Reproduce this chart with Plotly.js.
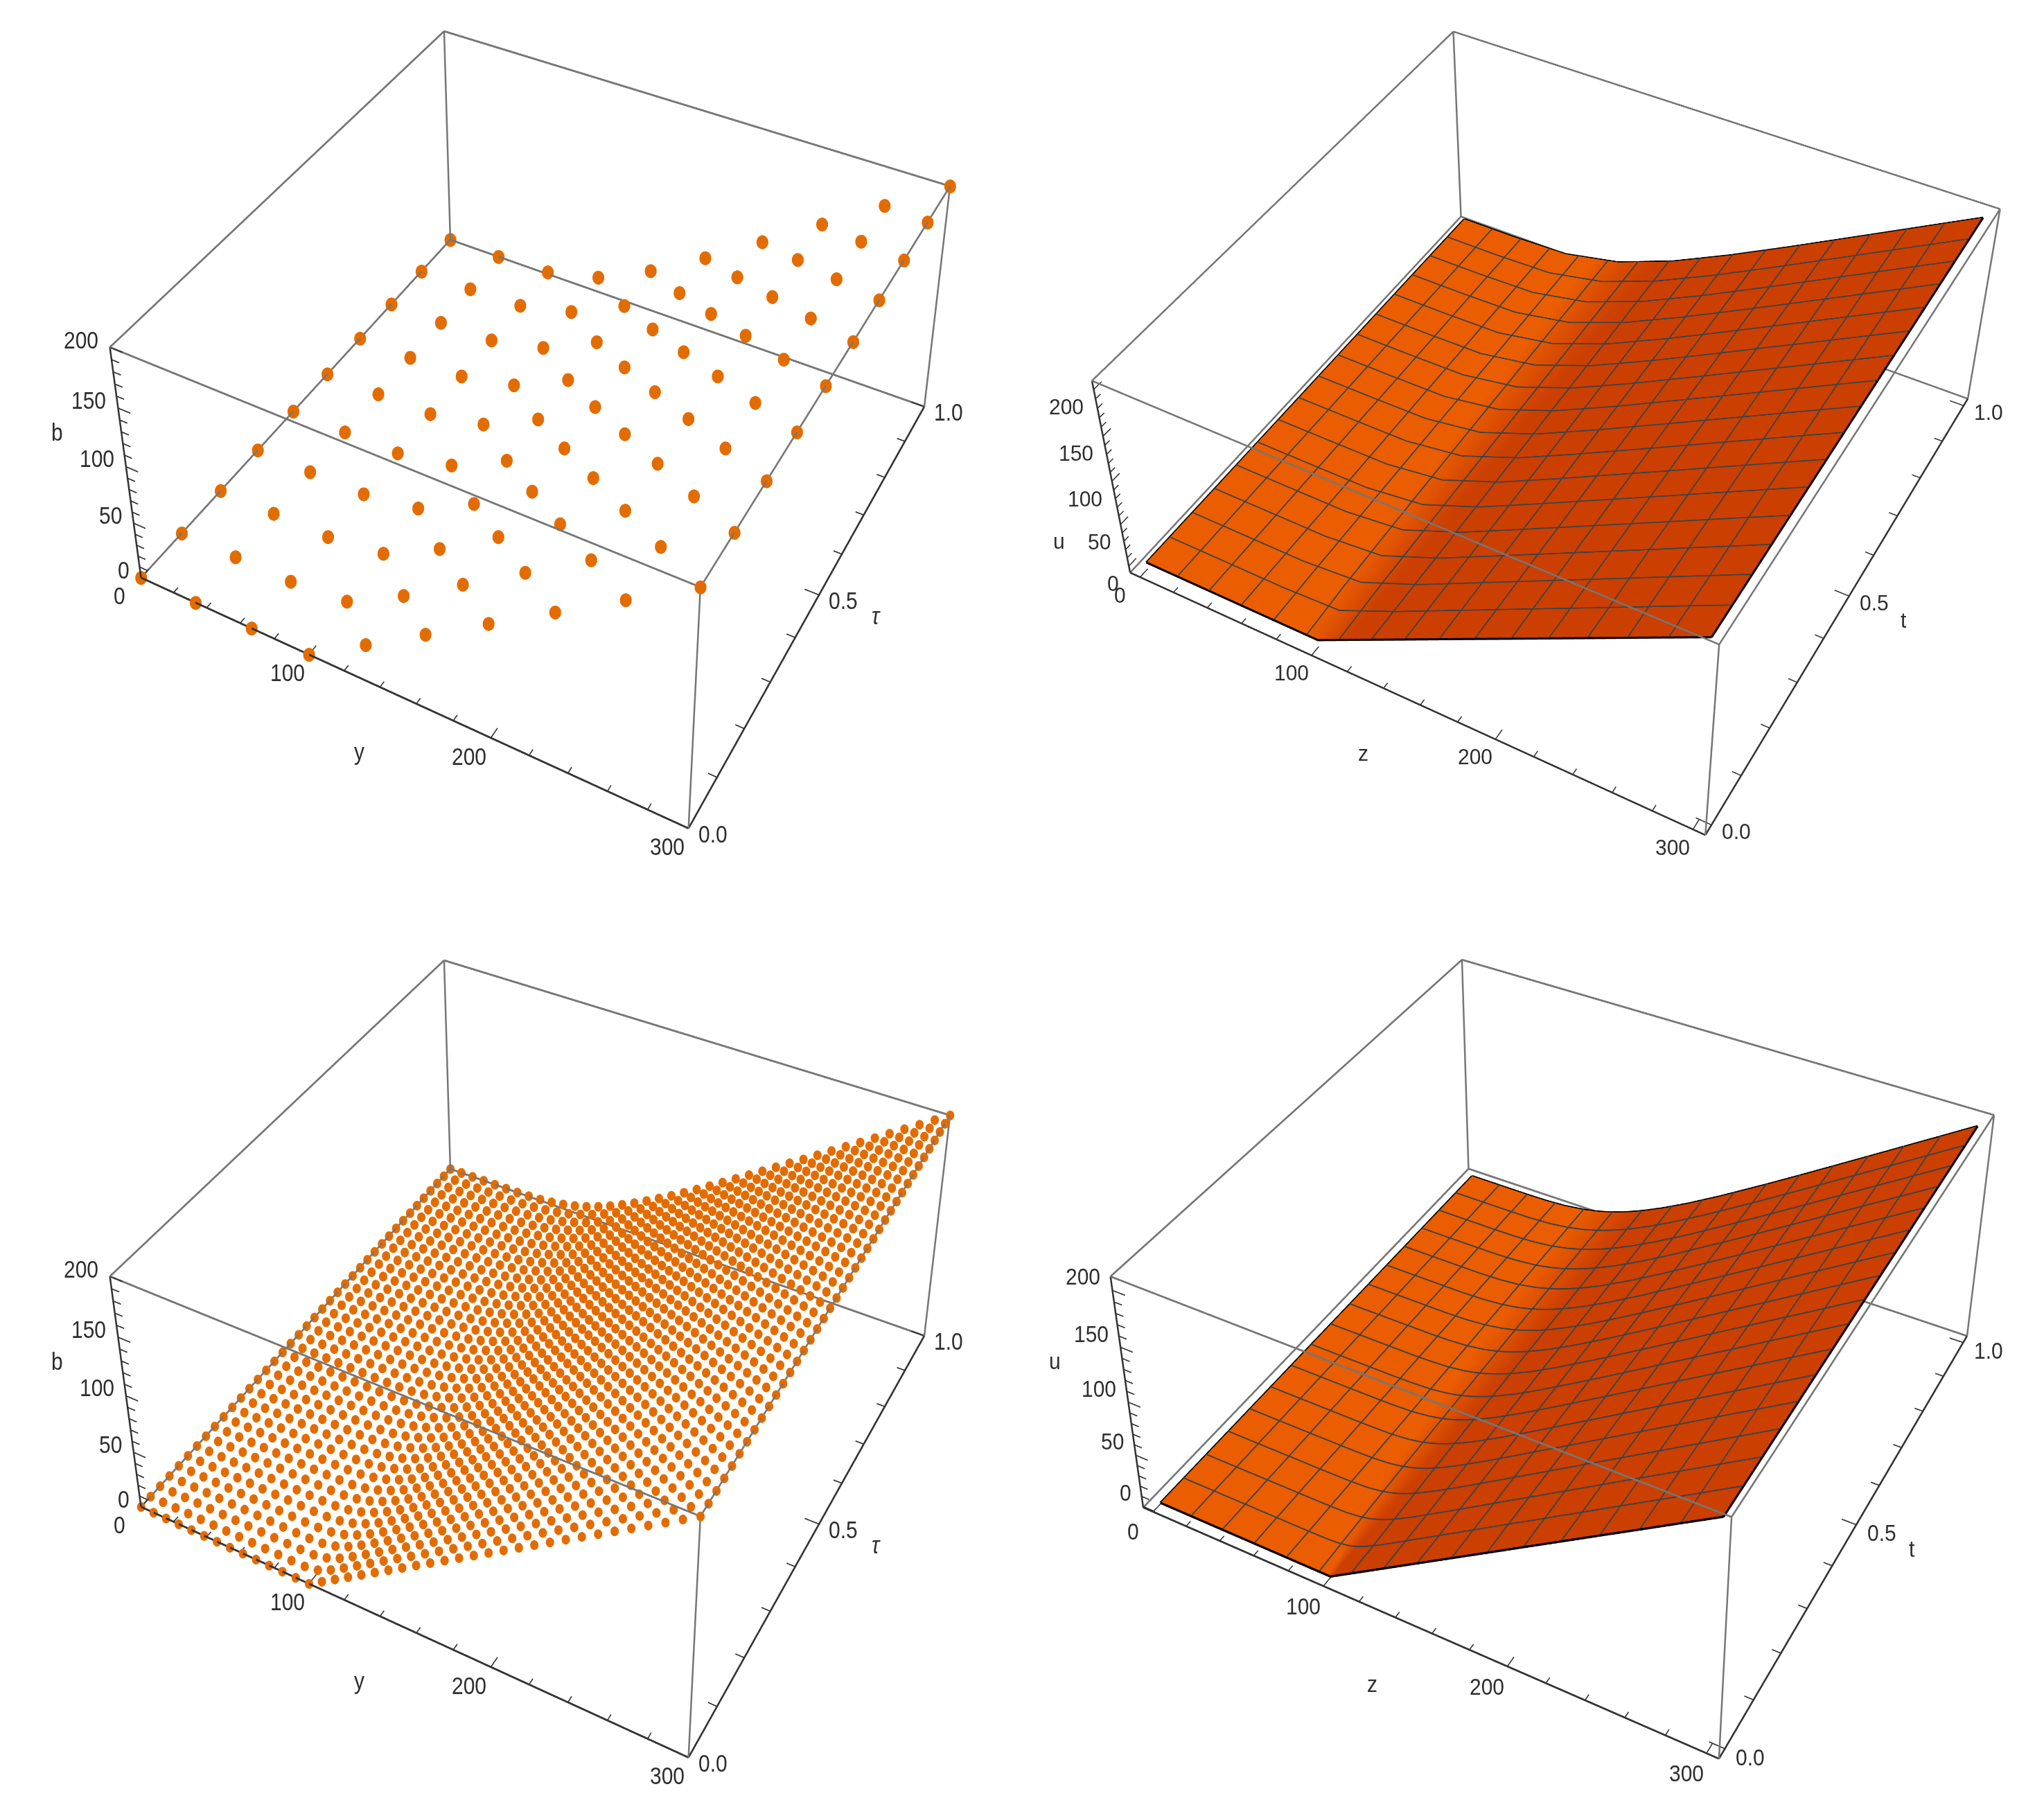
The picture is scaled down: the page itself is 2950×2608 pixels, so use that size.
<!DOCTYPE html>
<html><head><meta charset="utf-8">
<script src="https://cdn.plot.ly/plotly-3.0.1.min.js"></script>
<style>html,body{margin:0;padding:0;background:#fff;width:2950px;height:2608px;overflow:hidden}
.p{position:absolute;transform-origin:0 0}</style></head>
<body><div id="p1" class="p"></div><div id="p2" class="p"></div><div id="p3" class="p"></div><div id="p4" class="p"></div>
<script>
//top row grid: 10 x 10
const y_coarse=[0,33.33,66.67,100,133.33,166.67,200,233.33,266.67,300];
const tau_coarse=[0,0.1111,0.2222,0.3333,0.4444,0.5556,0.6667,0.7778,0.8889,1];
const b_coarse=[
[0,0,0,0,33.3,66.7,100,133.3,166.7,200],
[0,0,0,4.8,33.4,66.7,100,133.3,166.7,200],
[0,0,0,6.8,33.7,66.7,100,133.3,166.7,200],
[0,0,0.2,8.3,34.2,66.8,100,133.3,166.7,200],
[0,0,0.4,9.6,34.9,66.9,100,133.3,166.7,200],
[0,0,0.6,10.7,35.6,67,100.1,133.3,166.7,200],
[0,0,0.9,11.7,36.2,67.3,100.1,133.4,166.7,200],
[0,0,1.2,12.6,36.9,67.6,100.2,133.4,166.7,200],
[0,0,1.5,13.5,37.6,67.9,100.3,133.5,166.8,200],
[0,0,1.9,14.3,38.3,68.3,100.5,133.6,166.8,200]];
const u_coarse=[
[0,0,0,0,33.3,66.7,100,133.3,166.7,200],
[0,0,0,4.9,33.5,66.9,100.2,133.5,167,200.3],
[0,0,0,6.9,33.9,67,100.4,133.8,167.3,200.7],
[0,0,0.2,8.5,34.5,67.3,100.6,134,167.6,201],
[0,0,0.4,9.9,35.3,67.5,100.8,134.3,167.9,201.3],
[0,0,0.6,11,36.2,67.8,101.1,134.5,168.1,201.7],
[0,0,0.9,12.1,36.9,68.2,101.3,134.9,168.4,202],
[0,0,1.2,13.1,37.7,68.7,101.6,135.1,168.7,202.3],
[0,0,1.5,14,38.5,69.1,101.9,135.4,169.1,202.7],
[0,0,1.9,14.9,39.3,69.7,102.3,135.8,169.4,203]];

//bottom left grid: 40 x 40, value = floor row + bump read near the crease (columns 5 to 28)
const y_fine=[0,7.69,15.38,23.08,30.77,38.46,46.15,53.85,61.54,69.23,76.92,84.62,92.31,100,107.69,115.38,123.08,130.77,138.46,146.15,153.85,161.54,169.23,176.92,184.62,192.31,200,207.69,215.38,223.08,230.77,238.46,246.15,253.85,261.54,269.23,276.92,284.62,292.31,300];
const tau_fine=[0,0.0256,0.0513,0.0769,0.1026,0.1282,0.1538,0.1795,0.2051,0.2308,0.2564,0.2821,0.3077,0.3333,0.359,0.3846,0.4103,0.4359,0.4615,0.4872,0.5128,0.5385,0.5641,0.5897,0.6154,0.641,0.6667,0.6923,0.7179,0.7436,0.7692,0.7949,0.8205,0.8462,0.8718,0.8974,0.9231,0.9487,0.9744,1];
const b_floor=[0,0,0,0,0,0,0,0,0,0,0,0,0,0,7.7,15.4,23.1,30.8,38.5,46.2,53.8,61.5,69.2,76.9,84.6,92.3,100,107.7,115.4,123.1,130.8,138.5,146.2,153.8,161.5,169.2,176.9,184.6,192.3,200];
const b_bump=[
[],
[0,0,0,0,0,0,0,0.2,2.3,0.3],
[0,0,0,0,0,0,0.1,0.7,3.3,0.8,0.1],
[0,0,0,0,0,0,0.2,1.1,4,1.4,0.4,0.1],
[0,0,0,0,0,0,0.3,1.6,4.6,1.9,0.6,0.2],
[0,0,0,0,0,0.1,0.5,2,5.1,2.3,0.9,0.3,0.1],
[0,0,0,0,0,0.2,0.8,2.4,5.6,2.8,1.2,0.5,0.2,0.1],
[0,0,0,0,0,0.2,1,2.8,6.1,3.2,1.5,0.7,0.3,0.1],
[0,0,0,0,0.1,0.3,1.2,3.1,6.5,3.6,1.8,0.9,0.4,0.2,0.1],
[0,0,0,0,0.1,0.4,1.4,3.5,6.9,4,2.1,1.1,0.5,0.2,0.1],
[0,0,0,0,0.1,0.5,1.6,3.8,7.3,4.3,2.4,1.3,0.6,0.3,0.1,0.1],
[0,0,0,0,0.2,0.7,1.8,4.1,7.6,4.6,2.7,1.5,0.8,0.4,0.2,0.1],
[0,0,0,0,0.2,0.8,2.1,4.4,8,5,3,1.7,0.9,0.5,0.3,0.1,0.1],
[0,0,0,0.1,0.3,0.9,2.3,4.7,8.3,5.3,3.2,1.9,1.1,0.6,0.3,0.2,0.1],
[0,0,0,0.1,0.3,1,2.5,5,8.6,5.6,3.5,2.1,1.3,0.7,0.4,0.2,0.1,0.1],
[0,0,0,0.1,0.4,1.2,2.7,5.2,8.9,5.9,3.8,2.3,1.4,0.8,0.5,0.3,0.2,0.1],
[0,0,0,0.1,0.4,1.3,2.9,5.5,9.2,6.2,4,2.6,1.6,1,0.6,0.3,0.2,0.1,0.1],
[0,0,0,0.1,0.5,1.4,3.1,5.8,9.5,6.4,4.3,2.8,1.8,1.1,0.7,0.4,0.2,0.1,0.1,0.1],
[0,0,0,0.2,0.6,1.5,3.3,6,9.7,6.7,4.5,3,1.9,1.2,0.8,0.5,0.3,0.2,0.1,0.1],
[0,0,0,0.2,0.7,1.7,3.5,6.2,10,7,4.8,3.2,2.1,1.4,0.9,0.5,0.3,0.2,0.1,0.1,0.1],
[0,0,0.1,0.2,0.7,1.8,3.7,6.5,10.3,7.2,5,3.4,2.3,1.5,1,0.6,0.4,0.3,0.2,0.1,0.1],
[0,0,0.1,0.3,0.8,1.9,3.9,6.7,10.5,7.5,5.2,3.6,2.4,1.6,1.1,0.7,0.5,0.3,0.2,0.1,0.1,0.1],
[0,0,0.1,0.3,0.9,2.1,4.1,6.9,10.8,7.7,5.5,3.8,2.6,1.8,1.2,0.8,0.5,0.3,0.2,0.1,0.1,0.1],
[0,0,0.1,0.3,1,2.2,4.2,7.2,11,8,5.7,4,2.8,1.9,1.3,0.9,0.6,0.4,0.3,0.2,0.1,0.1,0.1],
[0,0,0.1,0.4,1.1,2.3,4.4,7.4,11.2,8.2,5.9,4.2,2.9,2,1.4,1,0.7,0.4,0.3,0.2,0.1,0.1,0.1],
[0,0,0.1,0.4,1.1,2.5,4.6,7.6,11.5,8.4,6.1,4.4,3.1,2.2,1.5,1.1,0.7,0.5,0.3,0.2,0.2,0.1,0.1,0.1],
[0,0,0.1,0.5,1.2,2.6,4.8,7.8,11.7,8.7,6.3,4.6,3.3,2.3,1.6,1.1,0.8,0.6,0.4,0.3,0.2,0.1,0.1,0.1],
[0,0,0.2,0.5,1.3,2.7,4.9,8,11.9,8.9,6.6,4.8,3.4,2.5,1.8,1.2,0.9,0.6,0.4,0.3,0.2,0.1,0.1,0.1],
[0,0,0.2,0.6,1.4,2.9,5.1,8.2,12.1,9.1,6.8,5,3.6,2.6,1.9,1.3,1,0.7,0.5,0.3,0.2,0.2,0.1,0.1],
[0,0,0.2,0.6,1.5,3,5.3,8.4,12.3,9.3,7,5.2,3.8,2.8,2,1.4,1,0.7,0.5,0.4,0.3,0.2,0.1,0.1],
[0,0,0.2,0.7,1.6,3.1,5.5,8.6,12.5,9.5,7.2,5.3,3.9,2.9,2.1,1.5,1.1,0.8,0.6,0.4,0.3,0.2,0.2,0.1],
[0,0.1,0.2,0.7,1.7,3.3,5.6,8.8,12.7,9.7,7.4,5.5,4.1,3,2.2,1.6,1.2,0.9,0.6,0.5,0.3,0.2,0.2,0.1],
[0,0.1,0.3,0.8,1.7,3.4,5.8,9,13,9.9,7.6,5.7,4.3,3.2,2.4,1.7,1.3,0.9,0.7,0.5,0.4,0.3,0.2,0.1],
[0,0.1,0.3,0.8,1.8,3.5,5.9,9.2,13.2,10.1,7.8,5.9,4.4,3.3,2.5,1.8,1.4,1,0.8,0.6,0.4,0.3,0.2,0.2],
[0,0.1,0.3,0.9,1.9,3.6,6.1,9.3,13.3,10.3,7.9,6.1,4.6,3.5,2.6,2,1.5,1.1,0.8,0.6,0.5,0.3,0.3,0.2],
[0,0.1,0.3,0.9,2,3.8,6.3,9.5,13.5,10.5,8.1,6.2,4.8,3.6,2.7,2.1,1.6,1.2,0.9,0.7,0.5,0.4,0.3,0.2],
[0,0.1,0.4,1,2.1,3.9,6.4,9.7,13.7,10.7,8.3,6.4,4.9,3.8,2.9,2.2,1.6,1.2,0.9,0.7,0.5,0.4,0.3,0.2],
[0,0.1,0.4,1,2.2,4,6.6,9.9,13.9,10.9,8.5,6.6,5.1,3.9,3,2.3,1.7,1.3,1,0.8,0.6,0.4,0.3,0.3],
[0,0.1,0.4,1.1,2.3,4.1,6.7,10.1,14.1,11.1,8.7,6.8,5.2,4,3.1,2.4,1.8,1.4,1.1,0.8,0.6,0.5,0.4,0.3],
[0,0.1,0.5,1.1,2.4,4.3,6.9,10.2,14.3,11.3,8.9,6.9,5.4,4.2,3.2,2.5,1.9,1.5,1.1,0.9,0.7,0.5,0.4,0.3]];
const b_fine=b_bump.map(row=>b_floor.map((v,i)=>v+(row[i-5]||0)));

//bottom right surface, grid is tighter around the crease
const z_smooth=[0,18.75,37.5,50,62.5,75,85,92,97,100,103,108,115,125,140,160,187.5,206.25,225,243.75,262.5,281.25,300];
const t_smooth=[0,0.0625,0.125,0.25,0.375,0.5,0.625,0.75,0.875,1];
const u_smooth=[
[0,0,0,0,0,0,0,0,0,0,3,8,15,25,40,60,87.5,106.3,125,143.8,162.5,181.3,200],
[0,0,0,0,0,0,0.2,0.9,2.3,3.6,5.4,9.1,15.3,25.1,40.1,60.1,87.7,106.4,125.2,144,162.7,181.5,200.3],
[0,0,0,0,0,0.1,0.6,2,3.7,5.2,6.9,10.3,16.1,25.4,40.2,60.2,87.8,106.6,125.4,144.2,163,181.8,200.6],
[0,0,0,0,0.1,0.5,1.8,3.8,5.9,7.4,9.1,12.4,17.7,26.4,40.7,60.5,88.1,107,125.8,144.6,163.5,182.3,201.1],
[0,0,0,0,0.2,1,3,5.3,7.5,9.1,10.8,14.1,19.2,27.5,41.3,60.9,88.4,107.3,126.2,145.1,163.9,182.8,201.7],
[0,0,0,0,0.4,1.6,4,6.6,9,10.6,12.3,15.5,20.6,28.6,42.1,61.4,88.8,107.7,126.6,145.5,164.4,183.3,202.3],
[0,0,0,0,0.6,2.3,5,7.8,10.2,11.9,13.6,16.8,21.8,29.8,43,62,89.2,108.1,127,145.9,164.9,183.9,202.8],
[0,0,0,0.1,0.9,2.9,5.9,8.9,11.4,13.1,14.8,18.1,23,30.8,43.8,62.6,89.7,108.5,127.4,146.4,165.4,184.4,203.4],
[0,0,0,0.2,1.2,3.5,6.8,9.9,12.5,14.2,16,19.2,24.1,31.9,44.7,63.3,90.2,109,127.9,146.9,165.9,184.9,203.9],
[0,0,0,0.3,1.5,4.2,7.6,10.8,13.5,15.2,17,20.2,25.2,32.9,45.6,64,90.8,109.5,128.4,147.4,166.4,185.4,204.5]];

//mesh lines on the surfaces: 15 in each direction
const mesh_z=[18.75,37.5,56.25,75,93.75,112.5,131.25,150,168.75,187.5,206.25,225,243.75,262.5,281.25];
const mesh_t=[0.0625,0.125,0.1875,0.25,0.3125,0.375,0.4375,0.5,0.5625,0.625,0.6875,0.75,0.8125,0.875,0.9375];

//tick positions shared by the four boxes
const y_ticks=[0,20,40,60,80,100,120,140,160,180,200,220,240,260,280,300];
const y_major=[0,100,200,300];
const t_ticks=[0,0.1,0.2,0.3,0.4,0.5,0.6,0.7,0.8,0.9,1];
const t_major=[0,0.5,1];
const v_ticks=[0,10,20,30,40,50,60,70,80,90,100,110,120,130,140,150,160,170,180,190,200];
const v_major=[0,50,100,150,200];

const gray='#767676',dark='#333333',font={family:'Liberation Sans',size:30,color:'#2e2e2e'};

//open line trace, segments are separated with null
function segTrace(segs,color,width){
    let xs=[],ys=[],zs=[];
    segs.forEach(s=>{s.forEach(p=>{xs.push(p[0]);ys.push(p[1]);zs.push(p[2]);});xs.push(null);ys.push(null);zs.push(null);});
    return {type:'scatter3d',mode:'lines',x:xs,y:ys,z:zs,line:{color:color,width:width},hoverinfo:'skip',showlegend:false};
}

//box edges, dark axes and tick marks
function frameTraces(r,c){
    const [x0,x1]=r.x,[y0,y1]=r.y,[z0,z1]=r.z;
    let g=[[[x0,y1,z0],[x1,y1,z0]],[[x0,y0,z0],[x0,y1,z0]],
        [[x0,y0,z1],[x1,y0,z1]],[[x1,y0,z1],[x1,y1,z1]],[[x1,y1,z1],[x0,y1,z1]],[[x0,y1,z1],[x0,y0,z1]],
        [[x1,y0,z0],[x1,y0,z1]],[[x1,y1,z0],[x1,y1,z1]],[[x0,y1,z0],[x0,y1,z1]]];
    let d=[[[x0,y0,z0],[x1,y0,z0]],[[x1,y0,z0],[x1,y1,z0]],[[x0,y0,z0],[x0,y0,z1]]];
    let t=[];
    y_ticks.forEach(v=>{let l=y_major.includes(v)?c.tk[0]*1.7:c.tk[0];t.push([[v,y0,z0],[v,y0+l,z0]]);});
    t_ticks.forEach(v=>{let l=t_major.includes(v)?c.tk[1]*1.7:c.tk[1];t.push([[x1,v,z0],[x1-l,v,z0]]);});
    v_ticks.forEach(v=>{let l=v_major.includes(v)?1.6:1;
        if(c.vAlongT) t.push([[x0,y0,v],[x0,y0+l*c.tk[0],v]]);
        else t.push([[x0,y0,v],[x0+l*c.tk[1],y0,v]]);});
    return [segTrace(g,gray,c.lw),segTrace(d,dark,c.lw),segTrace(t,dark,c.lw*0.6)];
}

function labels(r,c){
    const sy=c.fy/c.fx;let a=[];
    const add=(x,y,z,text,o,anchor)=>a.push({x:x,y:y,z:z,text:text,showarrow:false,xanchor:anchor||'center',yanchor:'middle',xshift:o[0],yshift:-o[1]/sy,font:font});
    y_major.forEach(v=>add(v,r.y[0],r.z[0],String(v),c.xo));
    t_major.forEach(v=>add(r.x[1],v,r.z[0],v.toFixed(1),c.to));
    v_major.forEach(v=>add(r.x[0],r.y[0],v,String(v),c.vo,'right'));
    add(150,r.y[0],r.z[0],c.names[0],c.xn);
    add(r.x[1],0.5,r.z[0],c.names[1],c.tn);
    add(r.x[0],r.y[0],100,c.names[2],c.vn);
    return a;
}

//draw one panel: plot div is large because plotly ties the focal length to the scene height
function drawPanel(id,traces,r,c){
    const W=1600,H=c.fx*2*Math.tan(Math.PI/8),sy=c.fy/c.fx;
    const el=document.getElementById(id);
    el.style.left=(c.cx-W/2)+'px';el.style.top=(c.cy-H*sy/2)+'px';el.style.width=W+'px';el.style.height=H+'px';
    el.style.transform='scaleY('+sy+')';
    //tiny extra range, lines sitting exactly on the bounds get clipped
    const ax=rg=>({range:[rg[0]-(rg[1]-rg[0])*0.0006,rg[1]+(rg[1]-rg[0])*0.0006],autorange:false,showgrid:false,zeroline:false,showline:false,showticklabels:false,showbackground:false,ticks:'',showspikes:false,title:{text:''}});
    Plotly.newPlot(id,frameTraces(r,c).concat(traces),{width:W,height:H,margin:{l:0,r:0,t:0,b:0},paper_bgcolor:'rgba(0,0,0,0)',showlegend:false,
        scene:{domain:{x:[0,1],y:[0,1]},bgcolor:'rgba(0,0,0,0)',aspectmode:'manual',aspectratio:{x:1,y:1,z:0.4},
            camera:{eye:c.eye,center:{x:0,y:0,z:0},up:{x:0,y:0,z:1},projection:{type:'perspective'}},
            xaxis:ax(r.x),yaxis:ax(r.y),zaxis:ax(r.z),annotations:labels(r,c)}},{displayModeBar:false});
}

function dots(xs,ts,vals,size){
    let x=[],y=[],z=[];
    ts.forEach((t,j)=>xs.forEach((v,i)=>{x.push(v);y.push(t);z.push(vals[j][i]);}));
    return [{type:'scatter3d',mode:'markers',x:x,y:y,z:z,marker:{size:size,color:'#e36c00',line:{width:0}},hoverinfo:'skip',showlegend:false}];
}

//height on the surface at a mesh line position, lifted a little so the line stays in front of it
function meshPoint(xs,ts,vals,x,t){
    let i=Math.min(xs.findIndex(v=>v>=x),xs.length-1),j=Math.min(ts.findIndex(v=>v>=t),ts.length-1);
    i=Math.max(i,1);j=Math.max(j,1);
    const a=(x-xs[i-1])/(xs[i]-xs[i-1]),b=(t-ts[j-1])/(ts[j]-ts[j-1]);
    const h=(1-b)*((1-a)*vals[j-1][i-1]+a*vals[j-1][i])+b*((1-a)*vals[j][i-1]+a*vals[j][i]);
    return [x,t,h+0.7];
}

//surface with mesh lines; colour follows the slope along z, as the lit original
function sheet(xs,ts,vals,lo,hi){
    const slope=vals.map(row=>row.map((v,i)=>{let a=Math.max(i-1,0),b=Math.min(i+1,row.length-1);return (row[b]-row[a])/(xs[b]-xs[a]);}));
    const n=ts.length-1,m=xs.length-1;
    let edge=[ts.map((t,j)=>[xs[0],t,vals[j][0]]),ts.map((t,j)=>[xs[m],t,vals[j][m]]),xs.map((x,i)=>[x,ts[0],vals[0][i]]),xs.map((x,i)=>[x,ts[n],vals[n][i]])];
    let mesh=[];
    mesh_t.forEach(t=>mesh.push(xs.map(x=>meshPoint(xs,ts,vals,x,t))));
    mesh_z.forEach(z=>mesh.push(ts.map(t=>meshPoint(xs,ts,vals,z,t))));
    return [{type:'surface',x:xs,y:ts,z:vals,surfacecolor:slope,cmin:0,cmax:1,showscale:false,hoverinfo:'skip',
        colorscale:[[0,'#ea5d00'],[lo,'#ea5d00'],[hi,'#cb3f00'],[1,'#cb3f00']],
        lighting:{ambient:1,diffuse:0,specular:0,roughness:1,fresnel:0}},
        segTrace(mesh,'#3c4247',3.5),segTrace(edge,'#000000',6)];
}

const def_eye={x:1.3,y:-2.4,z:2},rot_eye={x:1.2013,y:-2.1656,z:2.3062};
const box_a={x:[0,300],y:[0,1],z:[0,200]},box_b={x:[-6,306],y:[-0.02,1.02],z:[-8,209]},box_c={x:[-6,306],y:[-0.02,1.02],z:[-1,212]};
const base={lw:5,tk:[0.012,4.5],xo:[-31,26],to:[35,8],vo:[-15,-11],xn:[-56,81],tn:[82,30],vn:[-99,-50]};

drawPanel('p1',dots(y_coarse,tau_coarse,b_coarse,10),box_a,Object.assign({},base,{fx:2917,fy:3412,cx:795,cy:547,eye:def_eye,names:['y','<i>τ</i>','b']}));
drawPanel('p3',dots(y_fine,tau_fine,b_fine,7),box_a,Object.assign({},base,{fx:2917,fy:3412,cx:795,cy:1888,eye:def_eye,names:['y','<i>τ</i>','b']}));
drawPanel('p2',sheet(y_coarse,tau_coarse,u_coarse,0.4,0.75),box_b,Object.assign({},base,{fx:3129,fy:3186,cx:2260,cy:564,eye:rot_eye,vAlongT:true,names:['z','t','u'],
    xo:[-29,26],to:[36,10],vo:[-12,25],xn:[-56,82],tn:[79,35],vn:[-76,87]}));
drawPanel('p4',sheet(z_smooth,t_smooth,u_smooth,0.25,0.7),box_c,Object.assign({},base,{fx:3068,fy:3420,cx:2272,cy:1889,eye:def_eye,names:['z','t','u'],
    xo:[-29,29],to:[37,12],vo:[-15,-20],xn:[-60,84],tn:[80,34],vn:[-106,-60]}));
</script></body></html>
